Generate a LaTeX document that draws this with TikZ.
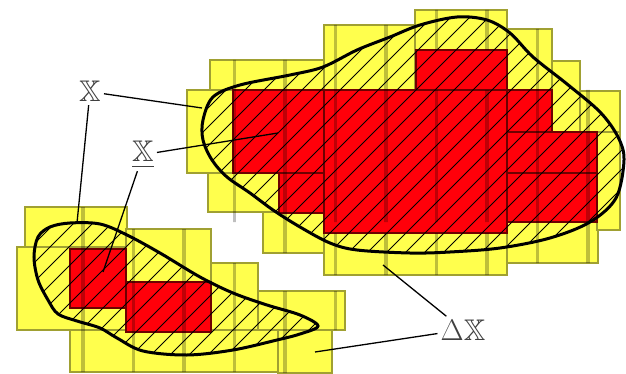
\documentclass[tikz,border=0pt]{standalone}
\usepackage{graphicx}
\usepackage{amssymb}
\definecolor{yfill}{RGB}{255,255,77}
\definecolor{yedge}{RGB}{160,160,50}
\definecolor{rfill}{RGB}{255,0,10}
\definecolor{redge}{RGB}{110,0,0}
\newcommand{\biglab}[1]{\scalebox{1.2}{\fontsize{24.88}{30}\selectfont #1}}
\tikzset{
 ycell/.style={fill=yfill,draw=yedge,line width=1.5pt},
 rcell/.style={fill=rfill,draw=redge,line width=1.3pt},
 stripe/.style={line width=3.5pt,black,opacity=0.25},
 hatch/.style={line width=0.9pt,black},
 blob/.style={line width=3pt,black},
 leader/.style={line width=1.3pt,black},
 lab/.style={text=black!75, inner sep=3pt, anchor=base}
}
\begin{document}
\begin{tikzpicture}[x=1pt,y=-1pt]
\useasboundingbox (0,0) rectangle (626,374);
% ---- yellow cells (upper approximation)
\foreach \a/\b/\c/\d in {
 415/10/507/50, 324/25/415/90, 507/29/552/90, 552/61/580/132, 580/91/620/230,
 210/60/324/90, 187/90/233/173, 208/173/279/212, 263/212/324/253,
 324/233/507/275, 507/222/598/263, 597/132/620/230,
 25/207/127/247, 17/247/127/330, 126/229/211/282, 211/263/258/332,
 258/291/345/330, 70/330/278/372, 278/330/332/373}
 \path[ycell] (\a,\b) rectangle (\c,\d);
% ---- red cells (lower approximation)
\foreach \a/\b/\c/\d in {
 416/50/507/90, 233/90/324/173, 324/90/507/233, 507/90/552/132,
 507/132/597/173, 507/173/597/222, 279/173/324/213,
 70/249/126/308, 126/282/211/332}
 \path[rcell] (\a,\b) rectangle (\c,\d);
% ---- vertical stripes
\begin{scope}
 \clip (415,10) rectangle (507,50) (324,25) rectangle (415,90) (507,29) rectangle (552,90)
  (552,61) rectangle (580,132) (580,91) rectangle (620,230) (210,60) rectangle (324,90)
  (187,90) rectangle (233,173) (208,173) rectangle (279,212) (263,212) rectangle (324,253)
  (324,233) rectangle (507,275) (507,222) rectangle (598,263) (597,132) rectangle (620,230)
  (233,90) rectangle (597,222)
  (25,207) rectangle (127,247) (17,247) rectangle (127,330) (126,229) rectangle (211,282)
  (211,263) rectangle (258,332) (258,291) rectangle (345,330) (70,330) rectangle (278,372)
  (278,330) rectangle (332,373) (126,282) rectangle (211,332);
 \foreach \k in {0,...,10}
  \draw[stripe] (83+50.5*\k,0) -- (83+50.5*\k,374);
\end{scope}
% ---- hatching of the big set
\begin{scope}
 \clip plot[smooth cycle,tension=0.55] coordinates {(203,120) (213,97) (240,85) (290,75) (323,67) (357,50) (390,37) (420,25) (457,17) (487,20) (510,33) (533,57) (567,84) (600,112) (618,137) (624,160) (616,198) (590,222) (550,238) (500,248) (450,252) (410,253) (357,250) (330,243) (300,227) (273,210) (250,193) (227,177) (212,160) (203,140)};
 \foreach \a in {-400,-381,...,700}
  \draw[hatch] (\a,374) -- ++(374,-374);
\end{scope}
\draw[blob] plot[smooth cycle,tension=0.55] coordinates {(203,120) (213,97) (240,85) (290,75) (323,67) (357,50) (390,37) (420,25) (457,17) (487,20) (510,33) (533,57) (567,84) (600,112) (618,137) (624,160) (616,198) (590,222) (550,238) (500,248) (450,252) (410,253) (357,250) (330,243) (300,227) (273,210) (250,193) (227,177) (212,160) (203,140)};
% ---- hatching of the small set
\begin{scope}
 \clip plot[smooth cycle,tension=0.55] coordinates {(50,227) (70,223) (100,224) (127,235) (160,253) (200,277) (233,293) (267,305) (300,315) (318,326) (300,334) (277,340) (233,350) (187,355) (143,351) (117,338) (100,328) (77,321) (58,314) (48,300) (38,280) (34,257) (38,237)};
 \foreach \a in {-400,-381,...,700}
  \draw[hatch] (\a,374) -- ++(374,-374);
\end{scope}
\draw[blob] plot[smooth cycle,tension=0.55] coordinates {(50,227) (70,223) (100,224) (127,235) (160,253) (200,277) (233,293) (267,305) (300,315) (318,326) (300,334) (277,340) (233,350) (187,355) (143,351) (117,338) (100,328) (77,321) (58,314) (48,300) (38,280) (34,257) (38,237)};
% ---- labels
\node[lab] (lx) at (90,102) {\biglab{$\mathbb{X}$}};
\node[lab] (ux) at (143,162) {\biglab{$\underline{\mathbb{X}}$}};
\node[lab] (dx) at (463,340) {\biglab{$\Delta\mathbb{X}$}};
\coordinate (p1) at (202,108);
\coordinate (p2) at (77,223);
\coordinate (p3) at (278,133);
\coordinate (p4) at (103,272);
\coordinate (p5) at (383,265);
\coordinate (p6) at (315,352);
\draw[leader] (lx) -- (p1);
\draw[leader] (lx) -- (p2);
\draw[leader] (ux) -- (p3);
\draw[leader] (ux) -- (p4);
\draw[leader] (dx) -- (p5);
\draw[leader] (dx) -- (p6);
\end{tikzpicture}
\end{document}
